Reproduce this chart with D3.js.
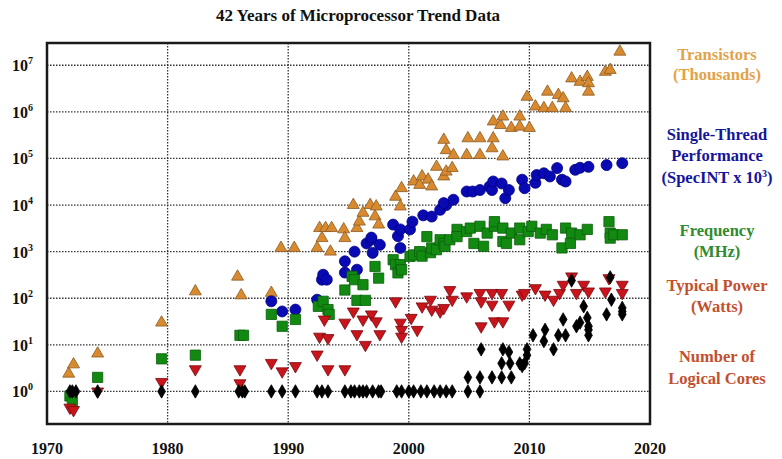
<!DOCTYPE html>
<html>
<head>
<meta charset="utf-8">
<script src="https://cdn.jsdelivr.net/npm/d3@7"></script>
<style>
body { margin: 0; background: #fff; }
text { font-family: "Liberation Serif", "DejaVu Serif", serif; font-weight: bold; }
</style>
</head>
<body>
<div class="chart"></div>
<script>
// data: [year, value]
var yearTicks = [1970, 1980, 1990, 2000, 2010, 2020];
var decadeTicks = [0, 1, 2, 3, 4, 5, 6, 7];

var transistors = [
  [1971.8, 2.4], [1972.2, 3.8], [1974.2, 6.5], [1979.5, 30], [1982.3, 140], [1985.8, 290],
  [1986.1, 115], [1988.6, 130], [1989.4, 1200], [1990.5, 1200], [1992.4, 1200], [1992.6, 3200],
  [1992.8, 1950], [1993.1, 3200], [1993.5, 1000], [1993.6, 3200], [1994.6, 3000], [1994.7, 1950],
  [1995.4, 10000], [1995.7, 3200], [1995.9, 4400], [1996.2, 6800], [1996.8, 10000], [1997.2, 5700],
  [1997.3, 9300], [1997.5, 3800], [1998.9, 15000], [1999.3, 9300], [1999.4, 23000], [2000.4, 32000],
  [2000.9, 27000], [2001.1, 41000], [2001.6, 35000], [2001.9, 25000], [2002.3, 66000], [2002.9, 41000],
  [2002.9, 250000], [2003.1, 150000], [2003.1, 52000], [2003.6, 62000], [2003.7, 118000], [2004.8, 118000],
  [2004.9, 270000], [2005.9, 118000], [2005.9, 270000], [2006.9, 165000], [2007.0, 270000], [2007.0, 620000],
  [2007.6, 520000], [2007.8, 790000], [2007.8, 110000], [2008.5, 450000], [2009.2, 480000], [2009.2, 790000],
  [2009.8, 2100000], [2010.0, 450000], [2010.5, 1300000], [2011.2, 1200000], [2011.5, 2700000], [2011.9, 1200000],
  [2012.4, 2300000], [2012.8, 1950000], [2013.0, 1200000], [2013.5, 5200000], [2014.2, 4400000], [2014.8, 5600000],
  [2014.9, 4100000], [2014.9, 2700000], [2016.3, 7200000], [2016.7, 7900000], [2017.5, 19500000]
];

var performance = [
  [1988.6, 86], [1989.5, 52], [1990.6, 57], [1992.4, 93], [1992.8, 250], [1992.9, 320], [1993.2, 250],
  [1994.7, 355], [1994.7, 620], [1995.5, 1000], [1995.7, 410], [1996.5, 1500], [1996.9, 1800], [1996.9, 2000],
  [1997.0, 940], [1997.6, 1400], [1998.7, 3800], [1999.1, 2150], [1999.3, 1200], [1999.3, 3000], [2000.1, 3000],
  [2000.3, 4400], [2001.2, 6000], [2001.9, 5650], [2002.6, 7900], [2003.1, 10000], [2002.9, 11000],
  [2003.7, 13000], [2004.8, 19500], [2005.3, 19500], [2005.9, 21000], [2006.7, 25000], [2006.9, 21000],
  [2007.0, 32000], [2007.7, 29000], [2008.0, 14000], [2008.3, 21000], [2009.4, 35000], [2009.6, 23000],
  [2010.5, 30000], [2010.6, 44000], [2011.2, 48000], [2011.7, 41000], [2012.3, 62000], [2012.7, 35000],
  [2013.0, 32000], [2013.8, 57000], [2014.2, 63000], [2014.9, 66000], [2016.4, 72000], [2017.7, 79000]
];

var frequency = [
  [1971.9, 0.8], [1972.1, 0.6], [1974.2, 2], [1979.5, 5], [1982.3, 6], [1986.0, 16], [1986.3, 16],
  [1988.6, 45], [1989.5, 25], [1990.6, 35], [1992.5, 67], [1992.9, 86], [1993.3, 57], [1993.4, 45],
  [1994.7, 150], [1995.3, 295], [1995.5, 250], [1995.7, 90], [1996.2, 195], [1996.4, 90], [1997.2, 480],
  [1997.5, 270], [1998.7, 670], [1998.9, 525], [1999.1, 350], [1999.3, 525], [1999.4, 410], [2000.1, 790],
  [2000.4, 850], [2000.9, 1000], [2001.1, 800], [2001.5, 2100], [2001.8, 950], [2001.9, 1200], [2002.3, 1100],
  [2002.6, 1800], [2002.9, 1500], [2003.0, 1300], [2003.4, 1800], [2004.0, 3000], [2004.0, 2100], [2004.8, 2700],
  [2005.1, 3200], [2005.4, 1500], [2005.9, 3500], [2006.2, 1300], [2006.5, 2500], [2007.1, 3500], [2007.1, 4400],
  [2007.8, 3200], [2007.8, 1650], [2008.1, 1500], [2008.5, 2500], [2009.2, 3200], [2009.2, 1800], [2009.9, 2700],
  [2010.2, 3500], [2010.9, 2500], [2011.4, 3000], [2011.9, 2300], [2012.7, 1200], [2013.0, 3200], [2013.4, 1500],
  [2013.5, 2500], [2014.2, 2300], [2014.8, 3000], [2016.6, 4400], [2016.7, 2500], [2016.7, 1950], [2017.0, 2300],
  [2017.7, 2300]
];

var power = [
  [1971.9, 0.45], [1972.2, 0.4], [1974.2, 1.0], [1979.5, 1.6], [1982.3, 3], [1986.0, 3], [1986.0, 1.5],
  [1988.6, 4.1], [1989.5, 2.7], [1990.6, 3.5], [1992.4, 6.2], [1992.6, 15], [1993.0, 35], [1993.3, 14],
  [1993.3, 3], [1994.7, 3], [1994.7, 30], [1995.4, 52], [1995.7, 17], [1996.2, 35], [1996.4, 10], [1996.9, 45],
  [1997.3, 32], [1997.6, 17], [1998.9, 86], [1999.3, 30], [1999.4, 21], [1999.4, 15], [2000.2, 38], [2000.7, 21],
  [2001.1, 67], [2001.8, 93], [2001.9, 57], [2002.6, 52], [2002.9, 62], [2003.4, 150], [2003.6, 93], [2004.8, 110],
  [2005.9, 130], [2006.0, 86], [2006.0, 25], [2006.9, 130], [2006.9, 73], [2007.1, 32], [2007.7, 130], [2007.8, 32],
  [2008.3, 73], [2009.4, 120], [2009.6, 130], [2010.5, 165], [2011.3, 120], [2012.0, 93], [2012.5, 130],
  [2012.8, 195], [2013.5, 295], [2013.9, 130], [2014.5, 195], [2014.9, 140], [2016.3, 140], [2016.6, 270],
  [2017.7, 195], [2017.7, 130]
];

var cores = [
  [1971.9, 1], [1972.1, 1], [1972.4, 1], [1974.2, 1], [1979.5, 1], [1982.3, 1], [1985.9, 1], [1986.2, 1],
  [1986.4, 1], [1988.6, 1], [1989.5, 1], [1990.6, 1], [1992.4, 1], [1992.8, 1], [1993.3, 1], [1994.7, 1],
  [1995.2, 1], [1995.5, 1], [1995.9, 1], [1996.2, 1], [1996.5, 1], [1997.0, 1], [1997.5, 1], [1997.7, 1],
  [1999.0, 1], [1999.4, 1], [2000.0, 1], [2000.4, 1], [2001.0, 1], [2001.5, 1], [2002.1, 1], [2002.6, 1],
  [2003.1, 1], [2003.6, 1], [2004.9, 1], [2005.9, 1],
  [2004.9, 2], [2005.9, 2], [2006.9, 2], [2007.7, 2], [2008.5, 2],
  [2006.0, 8], [2007.7, 4], [2008.4, 4], [2007.8, 8], [2008.3, 7],
  [2009.2, 4], [2009.4, 3.5], [2009.6, 4], [2009.8, 6], [2009.8, 8],
  [2010.3, 16], [2011.2, 12], [2011.3, 21], [2012.0, 8], [2012.4, 16], [2013.0, 16], [2012.8, 35],
  [2013.5, 240], [2013.9, 25], [2014.2, 30], [2014.8, 38], [2014.9, 25], [2014.9, 21], [2014.9, 16],
  [2014.5, 67], [2016.4, 45], [2016.7, 280], [2016.8, 93], [2017.7, 62], [2017.7, 45], [2017.7, 52]
];

var svgWidth = 782;
var svgHeight = 459;
var plot = {left: 47, right: 650, top: 43, bottom: 424};

var svg = d3.select('.chart').append('svg')
  .attr('width', svgWidth).attr('height', svgHeight);

var xScale = d3.scaleLinear().domain([1970, 2020]).range([plot.left, plot.right]);
var yScale = d3.scaleLog().domain([0.2, 3e7]).range([plot.bottom, plot.top]);

// title
svg.append('text').attr('x', 358).attr('y', 21).attr('text-anchor', 'middle')
  .attr('font-size', '17px').attr('fill', '#111')
  .text('42 Years of Microprocessor Trend Data');

// dotted grid
var grid = svg.append('g').attr('stroke', '#333').attr('stroke-width', 1.3).attr('stroke-dasharray', '1.5,1.5');
grid.selectAll('.vgrid').data(yearTicks.slice(1, -1)).enter().append('line')
  .attr('x1', function(d) { return xScale(d); }).attr('x2', function(d) { return xScale(d); })
  .attr('y1', plot.top).attr('y2', plot.bottom);
grid.selectAll('.hgrid').data(decadeTicks).enter().append('line')
  .attr('x1', plot.left).attr('x2', plot.right)
  .attr('y1', function(d) { return yScale(Math.pow(10, d)); })
  .attr('y2', function(d) { return yScale(Math.pow(10, d)); });

// tick labels
var ylab = svg.append('g').selectAll('text').data(decadeTicks).enter().append('text')
  .attr('x', 12).attr('y', function(d) { return yScale(Math.pow(10, d)) + 6; })
  .attr('font-size', '16px').attr('fill', '#111');
ylab.append('tspan').text('10');
ylab.append('tspan').attr('dy', -7).attr('font-size', '10px').text(function(d) { return d; });

svg.append('g').selectAll('text').data(yearTicks).enter().append('text')
  .attr('x', function(d) { return xScale(d); }).attr('y', 454)
  .attr('text-anchor', 'middle').attr('font-size', '16px').attr('fill', '#111')
  .text(function(d) { return d; });

// markers
function drawSeries(data, shape, size, fill, stroke, rotate) {
  var sym = d3.symbol().type(shape).size(size);
  svg.append('g').selectAll('path').data(data).enter().append('path')
    .attr('d', sym)
    .attr('transform', function(d) {
      return 'translate(' + xScale(d[0]) + ',' + yScale(d[1]) + ')' + (rotate ? ' rotate(180)' : '');
    })
    .attr('fill', fill).attr('stroke', stroke).attr('stroke-width', 0.8);
}

drawSeries(transistors, d3.symbolTriangle, 62, '#d98a2e', '#8a5a24', false);
drawSeries(performance, d3.symbolCircle, 95, '#0a0ab4', '#000080', false);
drawSeries(frequency, d3.symbolSquare, 105, '#128a12', '#0a600a', false);
drawSeries(power, d3.symbolTriangle, 62, '#c8141a', '#7a0a10', true);
drawSeries(cores, d3.symbolDiamond, 52, '#000', '#000', false);

// frame
svg.append('rect').attr('x', plot.left).attr('y', plot.top)
  .attr('width', plot.right - plot.left).attr('height', plot.bottom - plot.top)
  .attr('fill', 'none').attr('stroke', '#1a1a1a').attr('stroke-width', 2.5);

// legend labels
var legendX = 717;
var legendLines = [
  {t: 'Transistors', y: 60, c: '#e3a247'},
  {t: '(Thousands)', y: 80, c: '#e3a247'},
  {t: 'Single-Thread', y: 140, c: '#15159a'},
  {t: 'Performance', y: 161, c: '#15159a'},
  {t: '(SpecINT x 10', y: 183, c: '#15159a', sup: '3'},
  {t: 'Frequency', y: 236, c: '#2e8b2e'},
  {t: '(MHz)', y: 257, c: '#2e8b2e'},
  {t: 'Typical Power', y: 291, c: '#c2502e'},
  {t: '(Watts)', y: 312, c: '#c2502e'},
  {t: 'Number of', y: 362, c: '#c2502e'},
  {t: 'Logical Cores', y: 384, c: '#c2502e'}
];
legendLines.forEach(function(l) {
  var t = svg.append('text').attr('x', legendX).attr('y', l.y).attr('text-anchor', 'middle')
    .attr('font-size', '16.5px').attr('fill', l.c);
  t.append('tspan').text(l.t);
  if (l.sup) {
    t.append('tspan').attr('dy', -6).attr('font-size', '10px').text(l.sup);
    t.append('tspan').attr('dy', 6).text(')');
  }
});
</script>
</body>
</html>
